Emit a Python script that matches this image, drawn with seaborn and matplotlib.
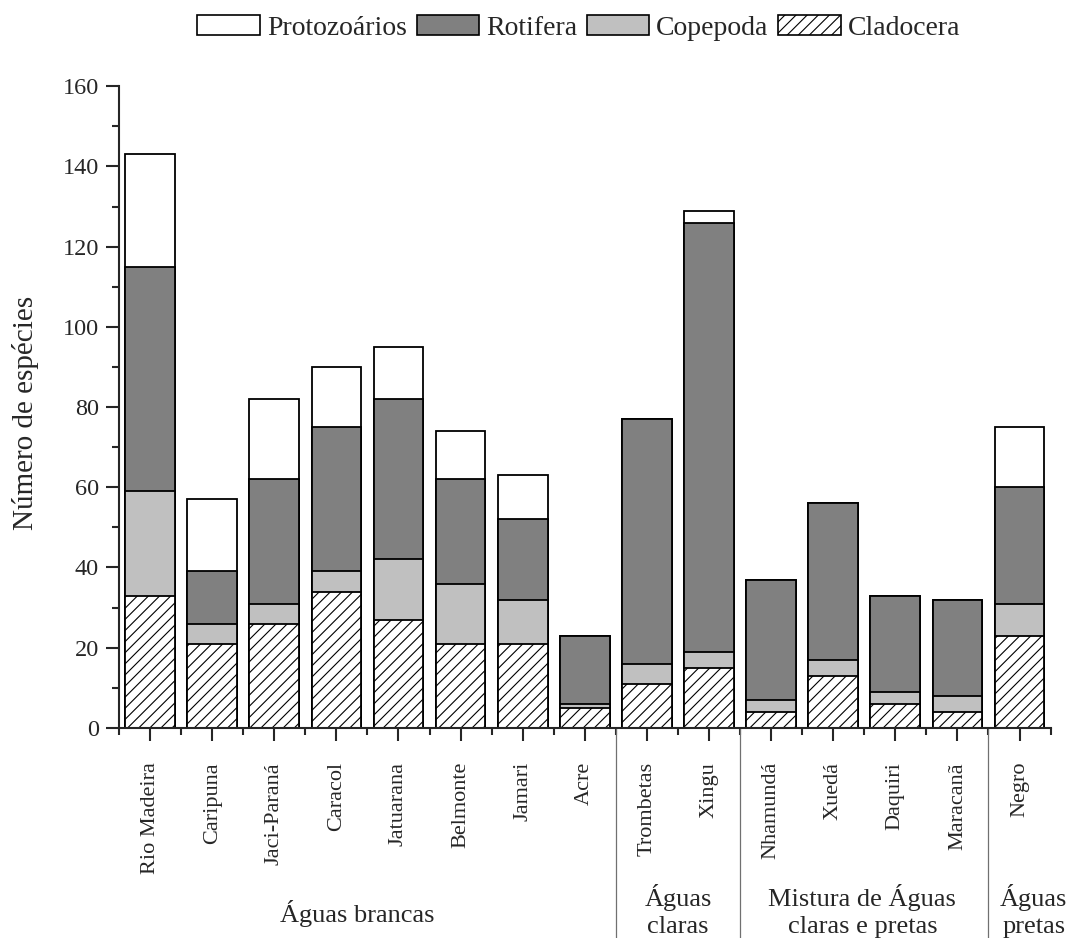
import matplotlib
matplotlib.use("Agg")
import matplotlib.pyplot as plt
import matplotlib.transforms as mtransforms
from matplotlib.patches import Patch
import numpy as np
import pandas as pd
import seaborn as sns

sites = ["Rio Madeira", "Caripuna", "Jaci-Paraná", "Caracol", "Jatuarana",
         "Belmonte", "Jamari", "Acre", "Trombetas", "Xingu", "Nhamundá",
         "Xuedá", "Daquiri", "Maracanã", "Negro"]
cladocera = [33, 21, 26, 34, 27, 21, 21, 5, 11, 15, 4, 13, 6, 4, 23]
copepoda = [26, 5, 5, 5, 15, 15, 11, 1, 5, 4, 3, 4, 3, 4, 8]
rotifera = [56, 13, 31, 36, 40, 26, 20, 17, 61, 107, 30, 39, 24, 24, 29]
protozoarios = [28, 18, 20, 15, 13, 12, 11, 0, 0, 3, 0, 0, 0, 0, 15]

group_names = [["Águas brancas"], ["Águas", "claras"],
               ["Mistura de Águas", "claras e pretas"], ["Águas", "pretas"]]
group_centers = [3.33, 8.5, 11.47, 14.23]
group_breaks = [7.5, 9.5, 13.5]

series_names = ["Protozoários", "Rotifera", "Copepoda", "Cladocera"]

sns.set_style("ticks")
plt.rcParams["font.family"] = ["Liberation Serif", "DejaVu Serif"]
plt.rcParams["hatch.linewidth"] = 0.8
plt.rcParams["axes.linewidth"] = 1.5

df = pd.DataFrame({"site": sites, "Cladocera": cladocera, "Copepoda": copepoda,
                   "Rotifera": rotifera, "Protozoários": protozoarios})
df["c_clad"] = df["Cladocera"]
df["c_cope"] = df["c_clad"] + df["Copepoda"]
df["c_rot"] = df["c_cope"] + df["Rotifera"]
df["c_prot"] = df["c_rot"] + df["Protozoários"]

fig = plt.figure(figsize=(10.72, 9.38), dpi=100)
ax = fig.add_axes([0.111, 0.224, 0.869, 0.684])

layers = [("c_prot", "white", None), ("c_rot", "#808080", None),
          ("c_cope", "#c0c0c0", None), ("c_clad", "white", "///")]
for col, colr, hatch in layers:
    kw = {}
    if hatch:
        kw["hatch"] = hatch
    sns.barplot(data=df, x="site", y=col, order=sites, color=colr, saturation=1,
                edgecolor="black", linewidth=1.3, width=0.8, ax=ax, **kw)

ax.set_xlim(-0.5, 14.5)
ax.set_ylim(0, 160)
ax.set_yticks(np.arange(0, 161, 20))
ax.set_yticks(np.arange(0, 161, 10), minor=True)
ax.set_xticks(np.arange(len(sites)))
ax.set_xticks(np.arange(-0.5, len(sites), 1), minor=True)
ax.set_xticklabels(sites, rotation=90, fontsize=16)
ax.tick_params(axis="y", labelsize=17.5)
ax.tick_params(which="major", direction="out", length=9.5, width=1.5, pad=5)
ax.tick_params(which="minor", direction="out", length=5, width=1.5)
ax.tick_params(axis="x", which="major", pad=15)
ax.set_xlabel("")
ax.set_ylabel("")
for s in ["top", "right"]:
    ax.spines[s].set_visible(False)

fig.text(26 / 1072, 1 - 413 / 938, "Número de espécies", rotation=90,
         ha="center", va="center", fontsize=21)

trans = mtransforms.blended_transform_factory(ax.transData, fig.transFigure)
for xb in group_breaks:
    ax.plot([xb, xb], [0, 0.224], transform=trans, color="#707070",
            lw=0.9, clip_on=False)

line_base = [1 - 906 / 938, 1 - 933 / 938]
single_base = 1 - 922 / 938
for names, xc in zip(group_names, group_centers):
    if len(names) == 1:
        fig.text(xc, single_base, names[0], transform=trans, ha="center",
                 va="baseline", fontsize=19)
    else:
        for nm, yy in zip(names, line_base):
            fig.text(xc, yy, nm, transform=trans, ha="center", va="baseline",
                     fontsize=19)

handles = [Patch(facecolor="white", edgecolor="black", lw=1.2),
           Patch(facecolor="#808080", edgecolor="black", lw=1.2),
           Patch(facecolor="#c0c0c0", edgecolor="black", lw=1.2),
           Patch(facecolor="white", edgecolor="black", lw=1.2, hatch="///")]
fig.legend(handles, series_names, loc="center", bbox_to_anchor=(0.540, 0.970),
           ncol=4, frameon=False, fontsize=20, handlelength=2.25,
           handleheight=0.72, handletextpad=0.25, columnspacing=0.35,
           borderaxespad=0)

fig.savefig("out.png", dpi=100)
